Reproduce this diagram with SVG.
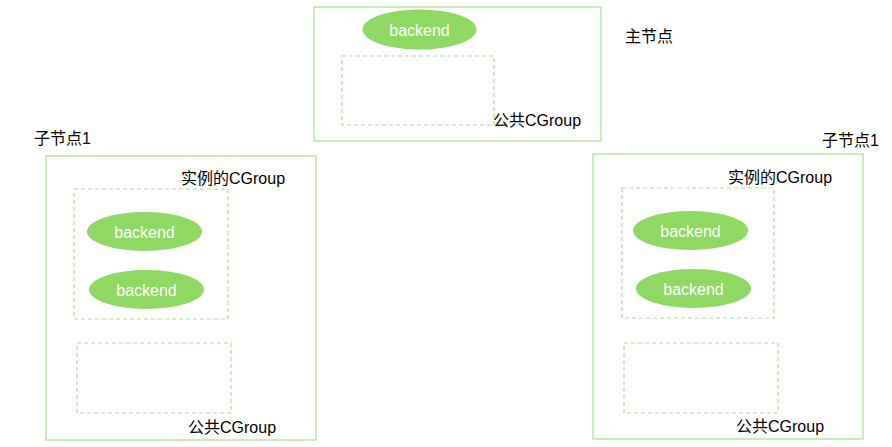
<svg xmlns="http://www.w3.org/2000/svg" width="892" height="447" viewBox="0 0 892 447">
<style>
.box{fill:#fff;stroke:#b9e6a3;stroke-width:1.5}
.dash{fill:none;stroke:#addf8f;stroke-width:1.2;stroke-dasharray:4 3}
.ell{fill:#8fd964;stroke:none}
.et{fill:#fff;font-family:"Liberation Sans","Noto Sans CJK SC",sans-serif;font-size:16px;text-anchor:middle}
.lb{fill:#000;font-family:"Liberation Sans","Noto Sans CJK SC",sans-serif;font-size:16px}
</style>
<rect width="892" height="447" fill="#fff"/>
<g id="master">
<rect class="box" x="314" y="7" width="287" height="134"/>
<rect class="dash" x="342" y="56" width="152" height="69"/>
<ellipse class="ell" cx="419.5" cy="29.5" rx="57" ry="20"/>
<text class="et" x="419.5" y="36">backend</text>
<text class="lb" x="493" y="126">公共CGroup</text>
<text class="lb" x="625" y="42">主节点</text>
</g>
<g id="child-left">
<rect class="box" x="46" y="156" width="270" height="284"/>
<rect class="dash" x="74" y="189" width="154" height="130"/>
<rect class="dash" x="77" y="343" width="154" height="70"/>
<ellipse class="ell" cx="144.5" cy="231.5" rx="57.5" ry="19.5"/>
<text class="et" x="144.5" y="238">backend</text>
<ellipse class="ell" cx="146.5" cy="289.5" rx="57.5" ry="19.5"/>
<text class="et" x="146.5" y="296">backend</text>
<text class="lb" x="34" y="144">子节点1</text>
<text class="lb" x="181" y="184">实例的CGroup</text>
<text class="lb" x="188" y="433">公共CGroup</text>
</g>
<g id="child-right">
<rect class="box" x="593" y="154" width="270" height="285"/>
<rect class="dash" x="622" y="188" width="152" height="130"/>
<rect class="dash" x="624" y="343" width="154" height="70"/>
<ellipse class="ell" cx="690.5" cy="230.5" rx="57.5" ry="19.5"/>
<text class="et" x="690.5" y="237">backend</text>
<ellipse class="ell" cx="693.5" cy="288.5" rx="57.5" ry="19.5"/>
<text class="et" x="693.5" y="295">backend</text>
<text class="lb" x="822" y="146">子节点1</text>
<text class="lb" x="728" y="183">实例的CGroup</text>
<text class="lb" x="736" y="432">公共CGroup</text>
</g>
<g id="connectors"></g>
</svg>
